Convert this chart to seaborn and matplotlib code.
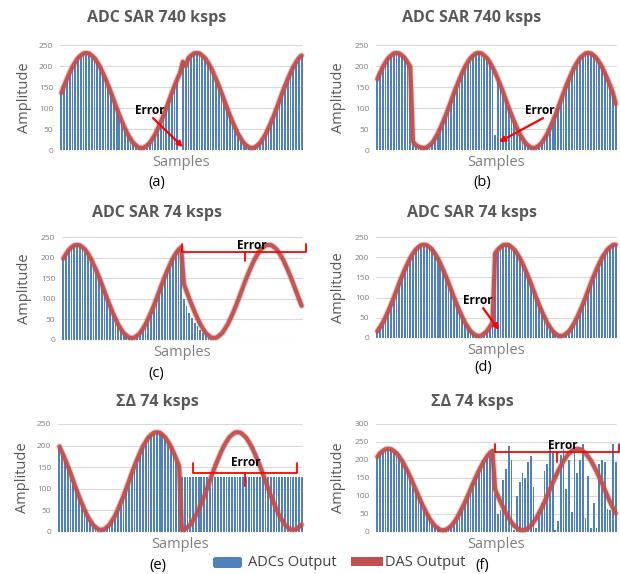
import matplotlib
matplotlib.use("Agg")
import numpy as np
import matplotlib.pyplot as plt
import matplotlib.patheffects as pe
import seaborn as sns
from matplotlib.patches import FancyBboxPatch, Rectangle

# ---------------------------------------------------------
# DATA (one value per sample)
# ---------------------------------------------------------
a_das = [136, 153, 169, 184, 198, 209, 219, 225, 230, 231, 230, 225, 219, 209, 198, 184, 169, 153, 136, 118,
         100, 83, 67, 52, 38, 27, 17, 11, 6, 5, 6, 11, 17, 27, 38, 52, 67, 83, 100,
         118, 136, 153, 169, 184, 210, 200, 219, 225, 230, 231, 230, 225, 219, 209, 198, 184, 169, 153, 136,
         118, 100, 83, 67, 52, 38, 27, 17, 11, 6, 5, 6, 11, 17, 27, 38, 52, 67, 83, 100,
         118, 136, 153, 169, 184, 198, 209, 219, 225]
a_adc = [136, 153, 169, 184, 198, 209, 219, 225, 230, 231, 230, 225, 219, 209, 198, 184, 169, 153, 136, 118,
         100, 83, 67, 52, 38, 27, 17, 11, 6, 5, 6, 11, 17, 27, 38, 52, 67, 83, 100,
         118, 136, 153, 169, 0, 210, 200, 219, 225, 230, 231, 230, 225, 219, 209, 198, 184, 169, 153, 136,
         118, 100, 83, 67, 52, 38, 27, 17, 11, 6, 5, 6, 11, 17, 27, 38, 52, 67, 83, 100,
         118, 136, 153, 169, 184, 198, 209, 219, 225]

b_das = [169, 184, 198, 209, 219, 225, 230, 231, 230, 225, 219, 209, 198, 20, 12, 8, 6,
         5, 6, 11, 17, 27, 38, 52, 67, 83, 100,
         118, 136, 153, 169, 184, 198, 209, 219, 225, 230, 231, 230, 225, 219, 209, 198, 184, 169, 153, 136,
         118, 100, 83, 67, 52, 38, 27, 17, 11, 6, 5, 6, 11, 17, 27, 38, 52, 67, 83, 100,
         118, 136, 153, 169, 184, 198, 209, 219, 225, 230, 231, 230, 225, 219, 209, 198, 184, 169, 153, 136, 110]
b_adc = [169, 184, 198, 209, 219, 225, 230, 231, 230, 225, 219, 209, 198, 20, 12, 8, 6,
         5, 6, 11, 17, 27, 38, 52, 67, 83, 100,
         118, 136, 153, 169, 184, 198, 209, 219, 225, 230, 231, 230, 225, 219, 209, 198, 35, 169, 153, 136,
         118, 100, 83, 67, 52, 38, 27, 17, 11, 6, 5, 6, 11, 17, 27, 38, 52, 67, 83, 100,
         118, 136, 153, 169, 184, 198, 209, 219, 225, 230, 231, 230, 225, 219, 209, 198, 184, 169, 153, 136, 110]

c_das = [198, 209, 219, 225, 230, 231, 230, 225, 219, 209, 198, 184, 169, 153, 136, 118, 100, 83, 67, 52,
         38, 27, 17, 11, 6, 5, 6, 11, 17, 27, 38, 52, 67, 83, 100,
         118, 136, 153, 169, 184, 198, 209, 219, 225,
         136, 118, 100, 83, 67, 52, 38, 27, 17, 11, 6, 5, 6, 11, 17, 27, 38, 52, 67, 83, 100,
         118, 136, 153, 169, 184, 198, 209, 219, 225, 230, 231, 230, 225, 219, 209, 198, 184, 169, 153, 136,
         118, 100, 83]
c_adc = [198, 209, 219, 225, 230, 231, 230, 225, 219, 209, 198, 184, 169, 153, 136, 118, 100, 83, 67, 52,
         38, 27, 17, 11, 6, 5, 6, 11, 17, 27, 38, 52, 67, 83, 100,
         118, 136, 153, 169, 184, 198, 209, 219, 225,
         100, 82, 66, 53, 42, 33, 25, 18, 12, 7, 4,
         0, 0, 0, 0, 0, 0, 0, 0, 0, 0, 0, 0, 0, 0, 0, 0, 0, 0, 0, 0, 0, 0, 0, 0, 0, 0, 0, 0, 0, 0, 0, 0, 0]

# (d): ADC and DAS outputs coincide
d_out = [17, 27, 38, 52, 67, 83, 100, 118, 136, 153, 169, 184, 198, 209, 219, 225, 230, 231,
         230, 225, 219, 209, 198, 184, 169, 153, 136, 118, 100, 83, 67, 52, 38, 27, 17, 11, 6, 5,
         6, 11, 17, 27, 38, 209, 219, 225, 230, 231,
         230, 225, 219, 209, 198, 184, 169, 153, 136, 118, 100, 83, 67, 52, 38, 27, 17, 11, 6, 5,
         6, 11, 17, 27, 38, 52, 67, 83, 100, 118, 136, 153, 169, 184, 198, 209, 219, 225, 230, 231]

e_das = [198, 184, 169, 153, 136, 118, 100, 83, 67, 52, 38, 27, 17, 11, 6, 5,
         6, 11, 17, 27, 38, 52, 67, 83, 100,
         118, 136, 153, 169, 184, 198, 209, 219, 225, 230, 231, 230, 225, 219, 209, 198, 184, 169, 153,
         5, 6, 11, 17, 27, 38, 52, 67, 83, 100,
         118, 136, 153, 169, 184, 198, 209, 219, 225, 230, 231,
         230, 225, 219, 209, 198, 184, 169, 153, 136, 118, 100, 83, 67, 52, 38, 27, 17, 11, 6, 5,
         6, 11, 17]
e_adc = [198, 184, 169, 153, 136, 118, 100, 83, 67, 52, 38, 27, 17, 11, 6, 5,
         6, 11, 17, 27, 38, 52, 67, 83, 100,
         118, 136, 153, 169, 184, 198, 209, 219, 225, 230, 231, 230, 225, 219, 209, 198, 184, 169, 153,
         128, 128, 128, 128, 128, 128, 128, 128, 128, 128, 128, 128, 128, 128, 128, 128, 128, 128, 128, 128, 128, 128,
         128, 128, 128, 128, 128, 128, 128, 128, 128, 128, 128, 128, 128, 128, 128, 128, 128, 128, 128, 128, 128, 128]

f_das = [209, 219, 225, 230, 231, 230, 225, 219, 209, 198, 184, 169, 153, 136, 118, 100, 83, 67, 52, 38,
         27, 17, 11, 6, 5, 6, 11, 17, 27, 38, 52, 67, 83, 100,
         118, 136, 153, 169, 184, 198, 209, 219, 225,
         118, 100, 83, 67, 52, 38, 27, 17, 11, 6, 5, 6, 11, 17, 27, 38, 52, 67, 83, 100,
         118, 136, 153, 169, 184, 198, 209, 219, 225, 230, 231,
         230, 225, 219, 209, 198, 184, 169, 153, 136, 118, 100, 83, 67, 52]
f_adc = [209, 219, 225, 230, 231, 230, 225, 219, 209, 198, 184, 169, 153, 136, 118, 100, 83, 67, 52, 38,
         27, 17, 11, 6, 5, 6, 11, 17, 27, 38, 52, 67, 83, 100,
         118, 136, 153, 169, 184, 198, 209, 219, 225,
         105, 50, 60, 145, 175, 240, 200, 5, 100, 140, 165, 150, 195, 210, 125, 10, 45, 80, 170, 190, 240,
         220, 5, 30, 215, 230, 120, 200, 55, 220, 165, 200, 245, 40, 155, 10, 80, 10, 190, 200, 195, 65, 60,
         245, 195]

titles = ["ADC SAR 740 ksps", "ADC SAR 740 ksps", "ADC SAR 74 ksps",
          "ADC SAR 74 ksps", "ΣΔ 74 ksps", "ΣΔ 74 ksps"]
tags = ["(a)", "(b)", "(c)", "(d)", "(e)", "(f)"]
ticks_250 = [0, 50, 100, 150, 200, 250]
ticks_300 = [0, 50, 100, 150, 200, 250, 300]

# ---------------------------------------------------------
# STYLE / LAYOUT
# ---------------------------------------------------------
W, H = 620, 574
BLUE = "#4f81bd"
RED = "#c0504d"
GREY = "#595959"

sns.set_style("white")
plt.rcParams["font.family"] = ["Open Sans", "DejaVu Sans"]

# plot boxes in pixels: left, top, right, bottom; title / tag / ylabel positions
panels = [
    dict(adc=a_adc, das=a_das, box=(60, 45, 303, 150), ticks=ticks_250, tx=157, ty=18, gx=157, gy=183, yl=25),
    dict(adc=b_adc, das=b_das, box=(376, 45, 617, 150), ticks=ticks_250, tx=472, ty=18, gx=482, gy=183, yl=338),
    dict(adc=c_adc, das=c_das, box=(62, 237, 303, 340), ticks=ticks_250, tx=157, ty=213, gx=156, gy=373, yl=25),
    dict(adc=d_out, das=d_out, box=(376, 237, 617, 338), ticks=ticks_250, tx=472, ty=213, gx=483, gy=367, yl=338),
    dict(adc=e_adc, das=e_das, box=(58, 424, 303, 532), ticks=ticks_250, tx=157, ty=402, gx=158, gy=565, yl=23),
    dict(adc=f_adc, das=f_das, box=(376, 424, 617, 532), ticks=ticks_300, tx=472, ty=402, gx=482, gy=565, yl=338),
]


def fx(x):
    return x / W


def fy(y):
    return 1 - y / H


fig = plt.figure(figsize=(W / 100, H / 100), dpi=100)
axes = []

for k, p in enumerate(panels):
    l, t, r, b = p["box"]
    ax = fig.add_axes([fx(l), fy(b), (r - l) / W, (b - t) / H])
    idx = np.arange(len(p["adc"]))
    sns.barplot(x=idx, y=p["adc"], ax=ax, color=BLUE, width=0.65, saturation=1,
                errorbar=None, linewidth=0)
    sns.lineplot(x=idx, y=p["das"], ax=ax, color=RED, lw=3.0, solid_capstyle="round",
                 clip_on=False, alpha=0.95,
                 path_effects=[pe.Stroke(linewidth=4.5, foreground=RED, alpha=0.3), pe.Normal()])
    ax.set_xlim(-0.5, len(idx) - 0.5)
    ax.set_ylim(0, p["ticks"][-1])
    ax.set_yticks(p["ticks"])
    ax.set_xticks([])
    ax.set_xlabel("")
    ax.set_ylabel("")
    ax.yaxis.grid(True, color="#d9d9d9", lw=0.8)
    ax.set_axisbelow(True)
    for s in ax.spines.values():
        s.set_visible(False)
    ax.tick_params(axis="y", length=0, labelsize=6, labelcolor="#7f7f7f", pad=5)

    cx = fx((l + r) / 2)
    fig.text(fx(p["tx"]), fy(p["ty"]), titles[k], ha="center", va="center",
             fontsize=11.5, fontweight="bold", color=GREY)
    fig.text(fx(p["yl"]), fy((t + b) / 2), "Amplitude", ha="center", va="center",
             rotation=90, fontsize=10.5, color=GREY)
    fig.text(cx, fy(b + 13), "Samples", ha="center", va="center", fontsize=10.5, color="#7f7f7f")
    fig.text(fx(p["gx"]), fy(p["gy"]), tags[k], ha="center", va="center", fontsize=10.5, color="black")
    axes.append(ax)

# ---------------------------------------------------------
# ERROR ANNOTATIONS
# ---------------------------------------------------------
err_kw = dict(fontsize=8.5, fontweight="bold", color="black", ha="center", va="center")
arrow_kw = dict(arrowstyle="-|>", color="red", lw=1.6, mutation_scale=8, shrinkA=0, shrinkB=0)


def arrow(ax, text_xy, start, end):
    ax.text(*text_xy, "Error", **err_kw)
    ax.annotate("", xy=end, xytext=start, arrowprops=arrow_kw, annotation_clip=False)


def brace(ax, x0, x1, xm, y, y_end, y_mid, text_xy):
    ax.plot([x0, x0, x1, x1], [y_end, y, y, y_end], color="red", lw=1.3, clip_on=False)
    ax.plot([xm, xm], [y, y_mid], color="red", lw=1.3, clip_on=False)
    ax.text(*text_xy, "Error", **err_kw, clip_on=False)


arrow(axes[0], (32, 95), (33.2, 76), (44, 7))
arrow(axes[1], (59.4, 95), (60.5, 76), (44.4, 19))
brace(axes[2], 43.3, 88.6, 66.3, 214, 233, 192, (68.9, 230))
arrow(axes[3], (36.7, 94), (38.6, 74), (44.4, 20))
brace(axes[4], 48.0, 85.3, 66.7, 137, 160, 106, (66.9, 160))
brace(axes[5], 43.0, 88.2, 65.6, 222, 244, 194, (67.8, 239))

# ---------------------------------------------------------
# LEGEND
# ---------------------------------------------------------
fig.patches.append(FancyBboxPatch((fx(213), fy(568)), (242 - 213) / W, 11 / H,
                                  boxstyle="round,pad=0,rounding_size=0.004",
                                  transform=fig.transFigure, facecolor=BLUE, edgecolor="none"))
fig.text(fx(248), fy(563), "ADCs Output", ha="left", va="center", fontsize=10.5, color="#404040")
fig.patches.append(Rectangle((fx(351), fy(566)), (383 - 351) / W, 9 / H,
                             transform=fig.transFigure, facecolor=RED, edgecolor="none"))
fig.text(fx(385), fy(563), "DAS Output", ha="left", va="center", fontsize=10.5, color="#404040")

fig.savefig("out.png", dpi=100)
